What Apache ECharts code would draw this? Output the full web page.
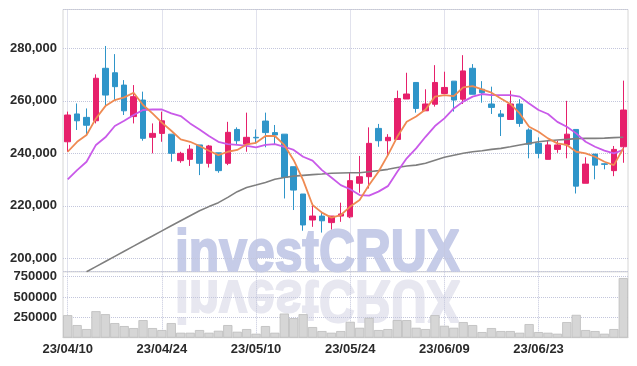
<!DOCTYPE html>
<html><head><meta charset="utf-8">
<script src="https://cdn.jsdelivr.net/npm/echarts@6/dist/echarts.min.js"></script>
<style>html,body{margin:0;padding:0;background:#fff}#c{width:637px;height:366px}</style>
</head><body><div id="c"></div>
<script>
const dates = ['23/04/10','23/04/11','23/04/12','23/04/13','23/04/14','23/04/17','23/04/18','23/04/19','23/04/20','23/04/21',
'23/04/24','23/04/25','23/04/26','23/04/27','23/04/28','23/05/02','23/05/03','23/05/04','23/05/08','23/05/09',
'23/05/10','23/05/11','23/05/12','23/05/15','23/05/16','23/05/17','23/05/18','23/05/19','23/05/22','23/05/23',
'23/05/24','23/05/25','23/05/26','23/05/30','23/05/31','23/06/01','23/06/02','23/06/05','23/06/07','23/06/08',
'23/06/09','23/06/12','23/06/13','23/06/14','23/06/15','23/06/16','23/06/19','23/06/20','23/06/21','23/06/22',
'23/06/23','23/06/26','23/06/27','23/06/28','23/06/29','23/06/30','23/07/03','23/07/04','23/07/05','23/07/06'];
const opens = [244400,255000,253700,252400,272400,270700,266000,254000,260300,246100,
247600,247300,237200,237700,243200,236200,240200,236200,249100,243500,
246100,252300,247900,247300,234900,224500,214600,216100,213600,216100,
215800,228600,231100,249500,244800,245300,260700,267000,256200,258700,
262800,267500,260600,272400,264400,258800,255000,252900,258800,248900,
243800,237700,241500,243200,249100,228600,239700,236000,233400,242500];
const closes = [254600,252400,250700,268600,262200,265400,256200,261600,245700,247600,
252400,240000,240000,241600,236200,242800,233400,248000,244800,246100,
245900,247900,247000,230800,226000,212700,216100,214300,216100,216900,
229600,231100,243800,244800,246100,260900,262600,257100,258800,267000,
265100,260300,271400,262500,263100,257500,254000,258800,251400,243500,
240000,243200,243200,247300,227500,235900,235500,235800,241500,256500];
const lows = [240600,248900,247300,251400,258400,260300,254600,251400,244800,240000,
244400,236800,236400,235200,231700,234600,232600,235500,243200,240600,
243800,242300,243200,222800,218400,210500,212000,209800,211000,213900,
215300,225000,226600,242500,239000,245300,260700,255500,256200,257800,
262800,255900,258800,262500,259300,255000,246600,252900,250100,238100,
238100,237700,240200,238100,224700,228600,230100,233900,231300,236400];
const highs = [255900,259000,257100,270100,280900,277800,267900,266000,263500,251400,
255900,247300,240600,243200,243200,243200,240200,252000,249900,255500,
249100,255500,250800,247300,234900,224500,220900,217800,216100,221200,
232600,239000,249900,251200,247300,263900,270700,267000,264400,273600,
271100,267500,277400,274000,267500,265400,256500,263900,260600,249500,
246100,244800,244800,260000,249100,238500,239700,236200,242800,267700];
const ma5 = [240600,244400,247000,253300,258000,260300,261300,263100,258400,255200,
251700,248600,245300,244400,242800,241000,239300,240600,241300,243400,
244000,246600,246600,243200,237400,229800,220300,217400,215500,216500,
219700,222200,227900,233000,239300,246300,252000,254000,256700,261600,
262200,261800,265100,265600,264400,263100,260900,258800,255200,250100,
248200,245700,243800,243200,240600,240000,238700,236800,235500,241900];
const ma10 = [230100,233600,236800,243200,246100,250400,252400,254600,256500,256700,
256700,255200,254200,251400,249100,246600,244400,243500,243200,242800,
242300,243200,243500,242500,241300,238700,237200,233600,230800,227900,
226300,224100,223900,225400,227500,233000,238100,241900,246300,250400,
253300,257100,259700,261600,262600,262200,262200,262200,261600,259000,
256500,255000,252000,250100,247600,244400,242500,241000,240000,241300];
const maLong = [null,null,194900,196850,198800,200750,202700,204650,206600,208500,
210450,212400,214300,216200,218100,219700,221200,223200,225400,227000,
227900,228900,230100,230800,231300,231600,231900,232100,232400,232500,
232600,232600,233000,233400,233900,234600,235200,235500,236200,237400,
238500,239300,240000,240600,241000,241500,241900,242500,243200,243800,
244400,244800,245100,245300,245600,245700,245700,245800,246000,246100];
const volumes = [276800,154900,106100,325600,289000,179300,142700,118300,215900,118300,
93900,179300,61000,61000,93900,61000,85400,154900,73200,106100,
48800,142700,61000,296300,240200,289000,130500,81700,61000,81700,
195100,122000,243900,93900,106100,215900,215900,122000,106100,276800,
146300,122000,191500,154900,69100,118300,81700,81700,61000,167100,
69100,61000,48800,191500,280500,93900,81700,48800,106100,731700];

const candles = opens.map((o, i) => [o, closes[i], lows[i], highs[i]]);
const FONT = '"Liberation Sans", Arial, sans-serif';
const gridLine = {type: 'dotted', color: '#c3c6dc', width: 1};
const labelStyle = {color: '#2a2a2a', fontSize: 13, fontWeight: 'bold', fontFamily: FONT};
const chart = echarts.init(document.getElementById('c'), null, {renderer: 'canvas'});
chart.setOption({
  animation: false,
  backgroundColor: '#fff',
  grid: [
    {left: 63, right: 9, top: 9.5, height: 262.2, show: true, borderColor: '#d6d6d6', borderWidth: 1, containLabel: false},
    {left: 63, right: 9, top: 271.7, height: 66, show: true, borderColor: '#d6d6d6', borderWidth: 1, containLabel: false}
  ],
  graphic: [
    {type: 'text', x: 175, y: 254, z: 0, scaleX: 0.83, scaleY: -1, originX: 0, originY: 22,
     style: {text: 'investCRUX', font: 'bold 60px ' + FONT, fill: '#e7e7f0', stroke: '#e7e7f0', lineWidth: 2, verticalAlign: 'middle'}},
    {type: 'text', x: 175, y: 254, z: 0, scaleX: 0.83,
     style: {text: 'investCRUX', font: 'bold 60px ' + FONT, fill: '#c6cce8', stroke: '#c6cce8', lineWidth: 2, verticalAlign: 'middle'}}
  ],
  xAxis: [
    {type: 'category', gridIndex: 0, data: dates, boundaryGap: true,
     axisLine: {show: false}, axisTick: {show: false}, axisLabel: {show: false},
     splitLine: {show: true, interval: 9, alignWithLabel: true, lineStyle: gridLine}},
    {type: 'category', gridIndex: 1, data: dates, boundaryGap: true,
     axisLine: {show: true, lineStyle: {color: '#d6d6d6'}}, axisTick: {show: false},
     axisLabel: Object.assign({interval: 9, margin: 5}, labelStyle),
     splitLine: {show: true, interval: 9, alignWithLabel: true, lineStyle: gridLine}}
  ],
  yAxis: [
    {type: 'value', gridIndex: 0, min: 194900, max: 294800, scale: true,
     axisLine: {show: false}, axisTick: {show: false},
     axisLabel: Object.assign({margin: 6, showMinLabel: false, showMaxLabel: false,
       formatter: v => v.toLocaleString('en-US')}, labelStyle),
     splitLine: {show: true, lineStyle: gridLine}},
    {type: 'value', gridIndex: 1, min: 0, max: 810000, interval: 250000,
     axisLine: {show: false}, axisTick: {show: false},
     axisLabel: Object.assign({margin: 6, showMinLabel: false, showMaxLabel: false,
       formatter: v => String(v)}, labelStyle),
     splitLine: {show: true, lineStyle: gridLine}}
  ],
  series: [
    {type: 'candlestick', xAxisIndex: 0, yAxisIndex: 0, data: candles, barWidth: '64%',
     itemStyle: {color: '#e6206b', color0: '#2f95c9', borderColor: '#e6206b', borderColor0: '#2f95c9', borderWidth: 1}},
    {type: 'line', xAxisIndex: 0, yAxisIndex: 0, data: maLong, symbol: 'none', z: 3,
     lineStyle: {color: '#7f7f7f', width: 1.6}},
    {type: 'line', xAxisIndex: 0, yAxisIndex: 0, data: ma10, symbol: 'none', z: 3,
     lineStyle: {color: '#c95ae9', width: 1.8}},
    {type: 'line', xAxisIndex: 0, yAxisIndex: 0, data: ma5, symbol: 'none', z: 4,
     lineStyle: {color: '#ef8a52', width: 1.8}},
    {type: 'bar', xAxisIndex: 1, yAxisIndex: 1, data: volumes, barCategoryGap: '2%',
     itemStyle: {color: '#d6d6d6', borderColor: '#bdbdbd', borderWidth: 0.8}}
  ]
});
</script></body></html>
